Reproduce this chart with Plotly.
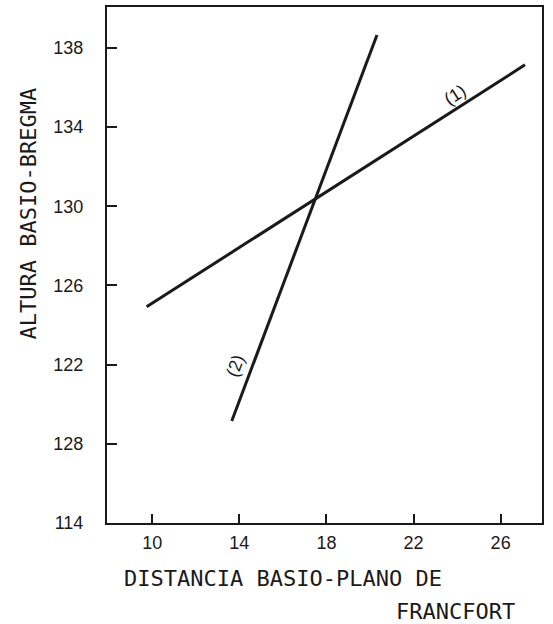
import plotly.graph_objects as go

# Data
line1_x = [9.74, 27.12]
line1_y = [124.92, 137.14]
line2_x = [13.65, 20.32]
line2_y = [119.15, 138.65]

x_ticks = [10, 14, 18, 22, 26]
x_ticktext = ["10", "14", "18", "22", "26"]
y_ticks = [114, 118, 122, 126, 130, 134, 138]
y_ticktext = ["114", "128", "122", "126", "130", "134", "138"]

label1 = {"text": "(1)", "x": 23.9, "y": 135.63, "angle": -33}
label2 = {"text": "(2)", "x": 13.8, "y": 121.95, "angle": -69.5}

x_title_1 = "DISTANCIA BASIO-PLANO DE"
x_title_2 = "FRANCFORT"
y_title = "ALTURA BASIO-BREGMA"

FONT = "Liberation Sans"
TFONT = "DejaVu Sans Mono"
INK = "#1a1a1a"

fig = go.Figure()
fig.add_trace(go.Scatter(x=line1_x, y=line1_y, mode="lines",
                         line=dict(color=INK, width=3), showlegend=False))
fig.add_trace(go.Scatter(x=line2_x, y=line2_y, mode="lines",
                         line=dict(color=INK, width=3), showlegend=False))

for lab in (label1, label2):
    fig.add_annotation(x=lab["x"], y=lab["y"], text=lab["text"], showarrow=False,
                       textangle=lab["angle"], font=dict(family=FONT, size=18, color=INK))

fig.add_annotation(xref="paper", yref="paper", x=0.4046, y=-0.108,
                   xanchor="center", yanchor="middle",
                   text=x_title_1, showarrow=False,
                   font=dict(family=TFONT, size=22, color=INK))
fig.add_annotation(xref="paper", yref="paper", x=0.802, y=-0.1718,
                   xanchor="center", yanchor="middle",
                   text=x_title_2, showarrow=False,
                   font=dict(family=TFONT, size=22, color=INK))
fig.add_annotation(xref="paper", yref="paper", x=0, y=0.600, xanchor="center", yanchor="middle",
                   text=y_title, showarrow=False, textangle=-90, xshift=-79,
                   font=dict(family=TFONT, size=22, color=INK))

fig.update_xaxes(range=[7.92, 27.9], tickvals=x_ticks, ticktext=x_ticktext,
                 ticks="inside", ticklen=9, tickwidth=1.5, tickcolor=INK,
                 showline=True, linewidth=2, linecolor=INK, mirror=True,
                 showgrid=False, zeroline=False, ticklabelstandoff=2,
                 tickfont=dict(family=FONT, size=18, color=INK))
fig.update_yaxes(range=[114, 140.06], tickvals=y_ticks, ticktext=y_ticktext,
                 ticks="inside", ticklen=10, tickwidth=1.5, tickcolor=INK,
                 showline=True, linewidth=2, linecolor=INK, mirror=True,
                 showgrid=False, zeroline=False, ticklabelstandoff=18,
                 tickfont=dict(family=FONT, size=18, color=INK))

fig.update_layout(width=553, height=624, margin=dict(l=107, r=11, t=5, b=101),
                  plot_bgcolor="white", paper_bgcolor="white")

fig.write_html("out.html")
